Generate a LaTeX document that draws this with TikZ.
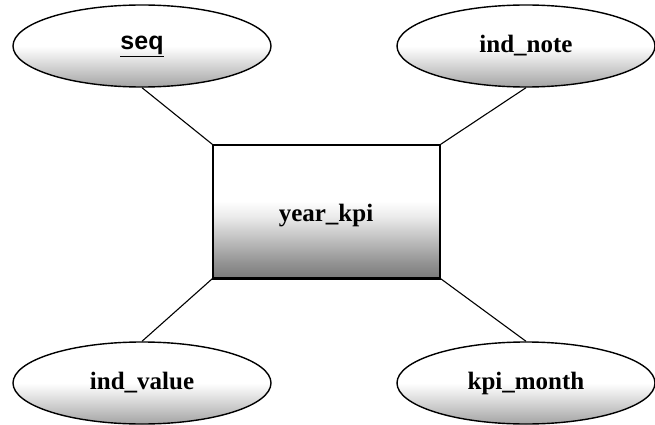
\documentclass[tikz,border=0pt]{standalone}
\usepackage{fontspec}
\setmainfont{Liberation Serif}
\newfontfamily\arialfont{Liberation Sans}
\usetikzlibrary{shapes.geometric}

% vertical shadings: 25bp is the lower edge of the shape, 75bp the upper edge
\pgfdeclareverticalshading{attrshade}{100bp}{%
  color(0bp)=(black!36); color(25bp)=(black!36); color(33bp)=(black!24);
  color(44bp)=(black!8); color(50bp)=(white); color(100bp)=(white)}
\pgfdeclareverticalshading{entshade}{100bp}{%
  color(0bp)=(black!52); color(25bp)=(black!52); color(31bp)=(black!42);
  color(40bp)=(black!24); color(48bp)=(black!8); color(54bp)=(white);
  color(100bp)=(white)}

\tikzset{
  attr/.style={ellipse, draw=black, line width=1.4pt,
    minimum width=258pt, minimum height=82pt, inner sep=0pt,
    shading=attrshade,
    font=\fontsize{25}{30}\selectfont\bfseries},
  entity/.style={rectangle, draw=black, line width=1.5pt,
    minimum width=227pt, minimum height=133pt, inner sep=0pt,
    shading=entshade},
  label/.style={font=\fontsize{25}{30}\selectfont\bfseries, inner sep=0pt},
  link/.style={draw=black, line width=1.1pt}
}

\begin{document}
\begin{tikzpicture}[x=1pt, y=-1pt]
  \useasboundingbox (0,0) rectangle (655,425);

  % entity
  \node[entity] (ent) at (326.5,211.5) {};
  \node[label] (entlabel) at (326,216) {year\_kpi};
  \draw[line width=2.4pt] (ent.south west) -- (ent.south east);

  % attributes
  \node[attr] (seq)   at (142,46)  {\arialfont\underline{seq}};
  \node[attr] (note)  at (526,46)  {ind\_note};
  \node[attr] (value) at (142,383) {ind\_value};
  \node[attr] (month) at (526,383) {kpi\_month};

  % connectors
  \draw[link] (seq.south)   -- (ent.north west);
  \draw[link] (note.south)  -- (ent.north east);
  \draw[link] (value.north) -- (ent.south west);
  \draw[link] (month.north) -- (ent.south east);
\end{tikzpicture}
\end{document}
